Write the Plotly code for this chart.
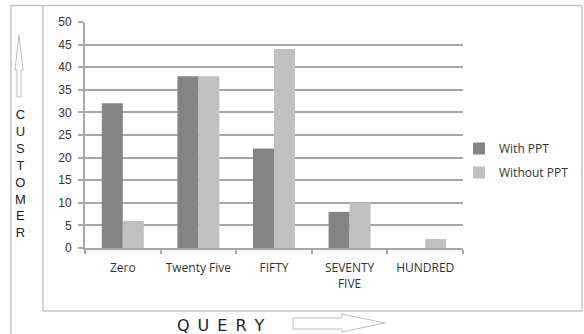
import plotly.graph_objects as go

categories = ["Zero", "Twenty Five", "FIFTY", "SEVENTY<br>FIVE", "HUNDRED"]
with_ppt = [32, 38, 22, 8, 0]
without_ppt = [6, 38, 44, 10, 2]
y_ticks = list(range(0, 55, 5))

W, H = 584, 334
L, R, T, B = 85, 463, 22, 248


def px(x):
    return (x - L) / (R - L)


def py(y):
    return (B - y) / (B - T)


fig = go.Figure()
fig.add_trace(go.Bar(name="With PPT", x=categories, y=with_ppt,
                     marker=dict(color="#848484", line=dict(width=0)),
                     legendgroup="a"))
fig.add_trace(go.Bar(name="Without PPT", x=categories, y=without_ppt,
                     marker=dict(color="#c0c0c0", line=dict(width=0)),
                     legendgroup="b"))

grid = "#a8a8a8"
fig.update_layout(
    width=W, height=H,
    margin=dict(l=L, r=W - R, t=T, b=H - B, autoexpand=False),
    paper_bgcolor="white", plot_bgcolor="white",
    barmode="group", bargap=0.444, bargroupgap=0,
    showlegend=True,
    legend=dict(x=px(459), xanchor="left", y=py(134), yanchor="top",
                traceorder="grouped", tracegroupgap=5,
                font=dict(family="Open Sans", size=12, color="#333333"),
                bgcolor="rgba(0,0,0,0)"),
    font=dict(family="Liberation Sans", color="#333333"),
)
fig.update_yaxes(range=[0, 50], tickvals=y_ticks, showgrid=True,
                 gridcolor=grid, gridwidth=2, showline=True, linecolor=grid,
                 linewidth=2, ticks="outside", ticklen=5, tickcolor=grid,
                 tickwidth=2, ticklabelstandoff=4,
                 tickfont=dict(family="Liberation Sans", size=12, color="#333333"),
                 zeroline=False, fixedrange=True)
fig.update_xaxes(showline=True, linecolor=grid, linewidth=2, tickangle=0,
                 ticks="outside", tickson="boundaries", ticklen=4,
                 tickcolor=grid, tickwidth=2, ticklabelstandoff=8,
                 tickfont=dict(family="Open Sans", size=12, color="#333333"),
                 showgrid=False, fixedrange=True)

frame = "#c4c4c4"
shapes = [
    # outer frame
    dict(type="line", x0=px(11), x1=px(11), y0=py(5), y1=py(334)),
    dict(type="line", x0=px(11), x1=px(582), y0=py(5.5), y1=py(5.5)),
    # chart box
    dict(type="line", x0=px(43), x1=px(43), y0=py(6), y1=py(311)),
    dict(type="line", x0=px(43), x1=px(582), y0=py(311), y1=py(311)),
    dict(type="line", x0=px(582), x1=px(582), y0=py(6), y1=py(311)),
]
for s in shapes:
    s.update(xref="paper", yref="paper", line=dict(color=frame, width=1.5))

# up arrow (outline)
up = [(19, 35), (23, 70), (21, 70), (21, 97), (17, 97), (17, 70), (15, 70)]
# right arrow (outline)
right = [(293, 318), (342, 318), (342, 314), (385, 323), (342, 332), (342, 329), (293, 329)]
for pts in (up, right):
    path = "M " + " L ".join(f"{px(a):.5f},{py(b):.5f}" for a, b in pts) + " Z"
    shapes.append(dict(type="path", path=path, xref="paper", yref="paper",
                       line=dict(color="#bdbdbd", width=1), fillcolor="white"))
fig.update_layout(shapes=shapes)

fig.add_annotation(text="<br>".join("CUSTOMER"), x=px(20), y=py(174),
                   xref="paper", yref="paper", showarrow=False,
                   xanchor="center", yanchor="middle",
                   font=dict(family="Liberation Sans", size=13, color="#222222"))
fig.add_annotation(text="\u2002".join("QUERY"), x=px(221), y=py(325),
                   xref="paper", yref="paper", showarrow=False,
                   xanchor="center", yanchor="middle",
                   font=dict(family="DejaVu Sans", size=16, color="#222222"))

fig.write_html("out.html")
